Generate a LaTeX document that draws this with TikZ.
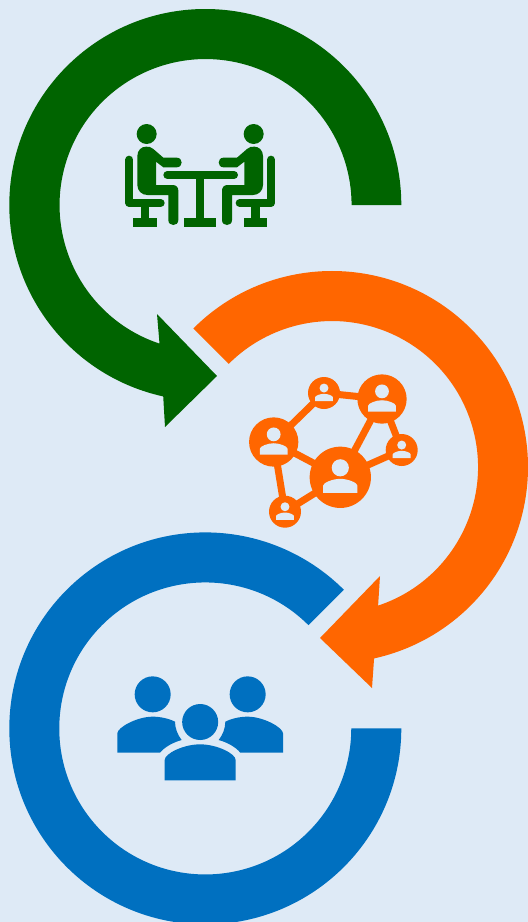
\documentclass[tikz,border=0pt]{standalone}
\definecolor{bgc}{RGB}{222,234,246}
\definecolor{greenc}{RGB}{0,100,0}
\definecolor{orangec}{RGB}{255,102,0}
\definecolor{bluec}{RGB}{0,112,192}
\tikzset{
  netnode/.style={circle,fill=orangec,inner sep=0pt,outer sep=0pt,minimum size=#1},
  netedge/.style={draw=orangec,line width=7bp,shorten >=-1.5bp,shorten <=-1.5bp},
  seatline/.style={draw=greenc,line width=8bp,line cap=round,line join=round}
}
% half of the meeting icon (person, chair), in 3x zoom coordinates
\newcommand{\seatedhalf}{%
  \fill[greenc] (110,72) circle[radius=30];
  \fill[greenc] (82,138) .. controls (82,120) and (95,110) .. (108,110)
    .. controls (117,110) and (122,110) .. (130,117) -- (160,143) -- (200,143)
    .. controls (220,143) and (220,172) .. (200,172) -- (160,172) -- (138,155) -- (138,225) -- (188,225)
    .. controls (199,225) and (205,232) .. (205,242) -- (205,330)
    .. controls (205,350) and (175,350) .. (175,330) -- (175,255) -- (112,255)
    .. controls (95,255) and (82,242) .. (82,225) -- cycle;
  \draw[seatline] (58,149) -- (58,279) -- (152,279);
  \fill[greenc] (92,285) rectangle (117,330);
  \fill[greenc] (69,325) rectangle (140,350);
}
% person glyph on a network circle
\newcommand{\netglyph}[3]{%
  \begin{scope}[shift={(#1,#2)},scale=#3/100]
    \fill[bgc] (0,-31) circle[radius=28];
    \fill[bgc] (-56,51) -- (-56,27) .. controls (-56,18) and (-25,5) .. (0,5)
      .. controls (25,5) and (56,18) .. (56,27) -- (56,51) -- cycle;
  \end{scope}
}
\begin{document}
\begin{tikzpicture}[x=1bp,y=-1bp]
\path[use as bounding box,fill=bgc] (0,0) rectangle (528,922);
\clip (0,0) rectangle (528,922);
% green arrow
\fill[greenc] (401.3,205) arc[start angle=0,end angle=-257.6,radius=196]
  -- (165,427) -- (217,376) -- (157,314) -- (159.5,343.6)
  arc[start angle=-251.6,end angle=0,radius=146] -- cycle;
% orange arrow
\fill[orangec] (193.4,328.4) arc[start angle=-135,end angle=77.6,radius=196]
  -- (372,688) -- (320,638) -- (380,576) -- (378.1,605.6)
  arc[start angle=71.6,end angle=-135,radius=146] -- cycle;
% blue ring
\fill[bluec] (401.3,728.4) arc[start angle=0,end angle=315,radius=196]
  -- (308.5,625.2)
  arc[start angle=315,end angle=0,radius=146] -- cycle;
% meeting icon
\begin{scope}[shift={(110,110)},scale=1/3]
  \seatedhalf
  \begin{scope}[shift={(541,0)},xscale=-1]
    \seatedhalf
  \end{scope}
  \draw[seatline] (172,195) -- (372,195);
  \fill[greenc] (259,195) rectangle (283,330);
  \fill[greenc] (223,325) rectangle (318,350);
\end{scope}
% network icon
\node[netnode=61.3bp] (nBig) at (340.3,477.3) {};
\node[netnode=49.3bp] (nUpper) at (382,399) {};
\node[netnode=49.3bp] (nLeft) at (273.7,442) {};
\node[netnode=32bp] (nTop) at (324,393) {};
\node[netnode=32bp] (nRight) at (401.7,450) {};
\node[netnode=32bp] (nBottom) at (285,511.7) {};
\draw[netedge] (nTop) -- (nUpper);
\draw[netedge] (nTop) -- (nLeft);
\draw[netedge] (nLeft) -- (nBig);
\draw[netedge] (nLeft) -- (nBottom);
\draw[netedge] (nBottom) -- (nBig);
\draw[netedge] (nBig) -- (nUpper);
\draw[netedge] (nUpper) -- (nRight);
\draw[netedge] (nBig) -- (nRight);
\netglyph{340.3}{477.3}{30.65}
\netglyph{382}{399}{24.65}
\netglyph{273.7}{442}{24.65}
\netglyph{324}{393}{16}
\netglyph{401.7}{450}{16}
\netglyph{285}{511.7}{16}
% group icon
\begin{scope}[shift={(105,665)},scale=1/3]
  \fill[bluec] (143,88) circle[radius=54];
  \fill[bluec] (428,88) circle[radius=54];
  \fill[bluec] (285.5,171) circle[radius=54];
  \fill[bluec] (37,263) -- (37,205) .. controls (37,188) and (95,155) .. (143,155)
    .. controls (165,155) and (190,160) .. (210,170) .. controls (210,190) and (218,210) .. (230,225)
    .. controls (205,232) and (180,245) .. (165,263) -- cycle;
  \fill[bluec] (534,263) -- (534,205) .. controls (534,188) and (476,155) .. (428,155)
    .. controls (406,155) and (381,160) .. (361,170) .. controls (361,190) and (353,210) .. (341,225)
    .. controls (366,232) and (391,245) .. (406,263) -- cycle;
  \fill[bluec] (179,346) -- (179,285) .. controls (179,266) and (235,238) .. (285.5,238)
    .. controls (336,238) and (392,266) .. (392,285) -- (392,346) -- cycle;
\end{scope}
\end{tikzpicture}
\end{document}
